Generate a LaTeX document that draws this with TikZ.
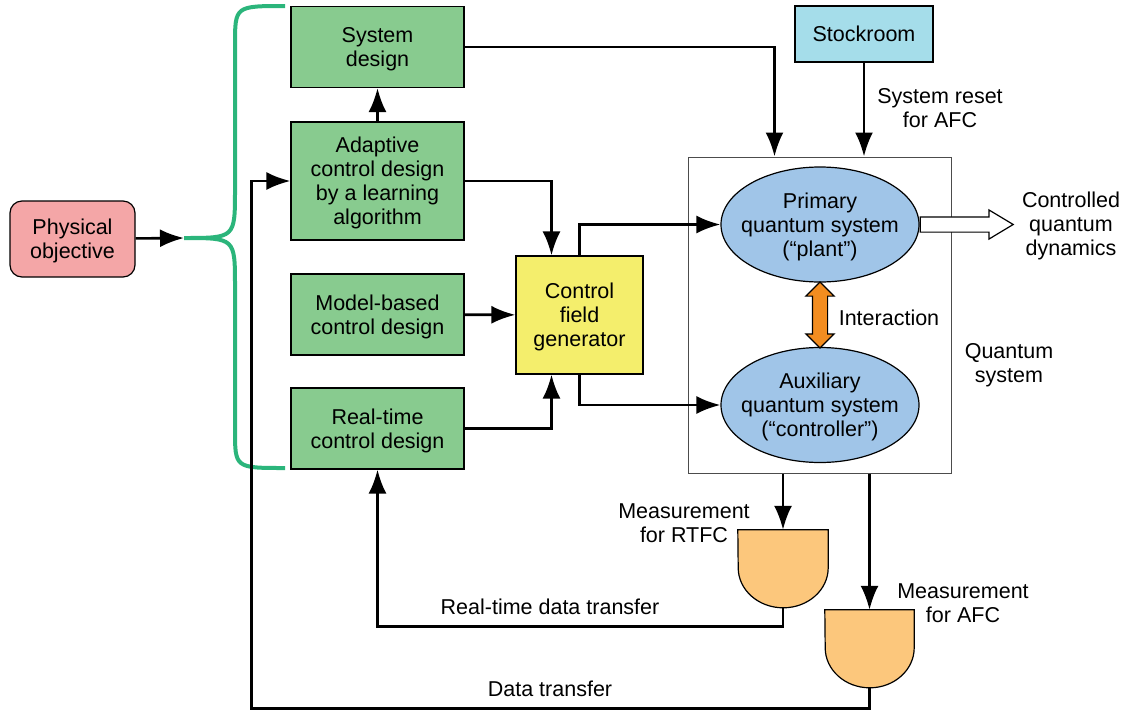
\documentclass[tikz,border=0pt]{standalone}
\usepackage{fontspec}
\setmainfont{Liberation Sans}
\usetikzlibrary{arrows.meta,shapes.geometric,shapes.arrows}
\definecolor{boxgreen}{HTML}{88CB8F}
\definecolor{bracegreen}{HTML}{2BB57B}
\definecolor{objpink}{HTML}{F4A6A7}
\definecolor{genyellow}{HTML}{F4EE6C}
\definecolor{stockblue}{HTML}{A5DDEA}
\definecolor{qblue}{HTML}{A0C5E8}
\definecolor{meterorange}{HTML}{FCC77C}
\definecolor{interorange}{HTML}{F38D20}
\begin{document}
\begin{tikzpicture}[x=1pt,y=-1pt,
  font=\fontsize{21.5pt}{24pt}\selectfont,
  box/.style={draw, line width=1.2pt, align=center, inner sep=0pt, text depth=0pt},
  design/.style={box, fill=boxgreen, minimum width=173pt, minimum height=81pt},
  qellipse/.style={box, ellipse, fill=qblue, inner xsep=-9pt, minimum width=198pt, minimum height=115pt},
  meter/.style={minimum height=78pt, inner sep=0pt},
  conn/.style={line width=2.6pt, -{Latex[length=24pt,width=18pt]}}]
\useasboundingbox (0,0) rectangle (1127,710);
\node[box, fill=objpink, rounded corners=12pt, minimum width=125pt, minimum height=76pt] (phys) at (72.5,239) {Physical\\objective};
\coordinate (bracetip) at (184,238);
\draw[bracegreen, line width=4pt] (285,6) .. controls (235,6) .. (235,45) -- (235,190) .. controls (235,238) .. (bracetip) .. controls (235,238) .. (235,286) -- (235,430) .. controls (235,468) .. (285,468);
\node[design] (sysd) at (377.5,47) {System\\design};
\node[design, minimum height=118pt] (adapt) at (377.5,181) {Adaptive\\control design\\by a learning\\algorithm};
\node[design] (model) at (377.5,314.5) {Model-based\\control design};
\node[design] (rt) at (377.5,428.5) {Real-time\\control design};
\node[box, fill=genyellow, minimum width=127pt, minimum height=118pt] (cfg) at (579.5,315) {Control\\field\\generator};
\node[box, fill=stockblue, minimum width=138pt, minimum height=56pt] (stock) at (864,34) {Stockroom};
\node[draw=black!70, line width=1pt, minimum width=263pt, minimum height=316pt] (qsys) at (819.5,315) {};
\node[qellipse] (prim) at (820,224.5) {Primary\\quantum system\\(“plant”)};
\node[qellipse] (aux) at (820,405) {Auxiliary\\quantum system\\(“controller”)};
\node[double arrow, draw, fill=interorange, line width=1.2pt, rotate=90, minimum height=66pt, minimum width=27pt, inner xsep=0pt, inner ysep=7pt, double arrow head extend=6.5pt] (inter) at (820,315) {};
\node[single arrow, draw, fill=white, line width=1.2pt, minimum height=93pt, minimum width=28pt, inner xsep=0pt, inner ysep=7pt, single arrow head extend=7pt, single arrow tip angle=62, anchor=tail] (outflow) at (prim.east) {};
\node[meter, minimum width=90pt] (mrt) at (783,569) {};
\draw[fill=meterorange, line width=1.2pt] (mrt.north west) -- (mrt.north east) -- ([yshift=-38pt]mrt.north east) arc[start angle=0, end angle=-180, x radius=45pt, y radius=40pt] -- cycle;
\node[meter, minimum width=89pt] (mafc) at (869.5,649) {};
\draw[fill=meterorange, line width=1.2pt] (mafc.north west) -- (mafc.north east) -- ([yshift=-38pt]mafc.north east) arc[start angle=0, end angle=-180, x radius=44.5pt, y radius=40pt] -- cycle;
\node[align=center] (resetlbl) at (940,108) {System reset\\for AFC};
\node (interlbl) at (889,318) {Interaction};
\node[align=center] (qsyslbl) at (1009,365) {Quantum\\system};
\node[align=center] (dynlbl) at (1071,226) {Controlled\\quantum\\dynamics};
\node[align=center] (mrtlbl) at (684,523) {Measurement\\for RTFC};
\node[align=center] (mafclbl) at (963,603) {Measurement\\for AFC};
\node (rtdatalbl) at (550,607) {Real-time data transfer};
\node (datalbl) at (550,689) {Data transfer};
\draw[conn] (phys) -- (bracetip);
\draw[conn] (adapt) -- (sysd);
\draw[conn] (sysd) -| ([xshift=-45pt]qsys.north);
\draw[conn] (stock) -- (stock |- qsys.north);
\draw[conn] (adapt) -| ([xshift=-28pt]cfg.north);
\draw[conn] (model) -- (cfg);
\draw[conn] (rt) -| ([xshift=-28pt]cfg.south);
\draw[conn] (cfg.north) |- (prim);
\draw[conn] (cfg.south) |- (aux);
\draw[conn] (qsys.south -| mrt) -- (mrt.north);
\draw[conn] (qsys.south -| mafc) -- (mafc.north);
\draw[conn] (mrt.south) -- ++(0,18) -| (rt.south);
\draw[conn] (mafc.south) -- ++(0,20) -| ([xshift=-39pt]adapt.west) -- (adapt.west);
\end{tikzpicture}
\end{document}
